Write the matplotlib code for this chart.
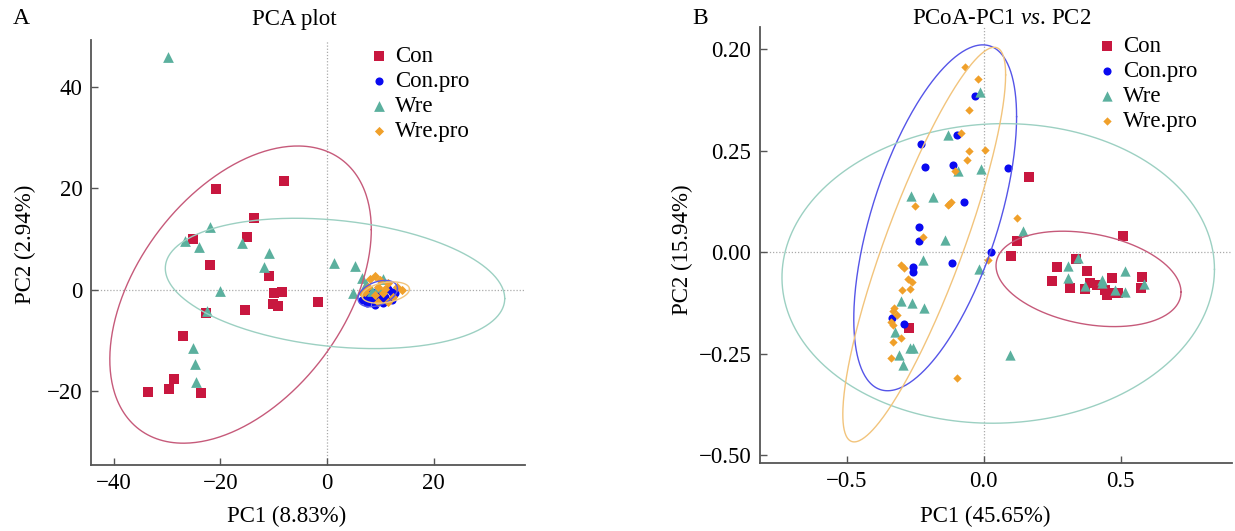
import numpy as np
import matplotlib
matplotlib.use("Agg")
import matplotlib.pyplot as plt

plt.rcParams['font.family'] = ['Liberation Serif', 'DejaVu Serif']
plt.rcParams['mathtext.fontset'] = 'custom'
plt.rcParams['mathtext.it'] = 'Liberation Serif:italic'
plt.rcParams['mathtext.rm'] = 'Liberation Serif'

# --- grupos ---
groups = ['Con', 'Con.pro', 'Wre', 'Wre.pro']
colors = {'Con': '#C8173F', 'Con.pro': '#0A0AF0', 'Wre': '#5BB09E', 'Wre.pro': '#F0A02A'}
ell_colors = {'Con': '#C65A7A', 'Con.pro': '#5555E8', 'Wre': '#9CD0C2', 'Wre.pro': '#F2C47C'}
markers = {'Con': 's', 'Con.pro': 'o', 'Wre': '^', 'Wre.pro': 'D'}

# --- PCA (painel A) ---
pca_con_x = [-20.8, -8.05, -13.7, -15.0, -25.2, -21.9, -10.8, -9.9, -8.4, -10.2, -9.2, -1.7,
             -15.4, -22.7, -27.0, -28.6, -33.6, -29.6, -23.6]
pca_con_y = [19.8, 21.3, 14.2, 10.4, 10.0, 4.8, 2.7, -0.75, -0.5, -2.9, -3.3, -2.4,
             -4.0, -4.7, -9.2, -17.7, -20.2, -19.7, -20.4]
pca_conpro_x = [6.5, 7.4, 9.0, 10.5, 12.1, 12.7, 11.5, 9.3, 7.7, 7.1, 10.9, 8.4, 9.9, 12.1]
pca_conpro_y = [-2.1, -2.6, -3.1, -2.6, -2.1, -0.75, 0.2, -0.2, -0.75, -1.4, -1.4, -1.9, -1.7, -0.4]
pca_wre_x = [-29.8, -22.0, -26.7, -24.0, -15.9, -10.9, -11.8, -20.0, -22.5, 1.3, -25.2, -24.7,
             -24.5, 5.2, 6.6, 10.5, 4.9, 7.3, 9.6, 8.5]
pca_wre_y = [45.9, 12.3, 9.6, 8.3, 9.1, 7.3, 4.5, -0.3, -4.2, 5.2, -11.6, -14.6,
             -18.2, 4.6, 2.2, 2.0, -0.6, 1.1, 0.5, -0.3]
pca_wrepro_x = [8.9, 8.0, 9.9, 11.5, 13.1, 14.0, 7.1, 7.7, 9.6, 10.5, 9.0, 12.4, 11.5, 9.6, 10.9, 6.5]
pca_wrepro_y = [2.7, 2.0, 1.9, 1.2, 0.55, -0.1, -0.4, 0.55, 0.55, -0.75, -1.1, -1.4, -2.4, -2.4, 0.04, -0.75]

# elipses: centro x, centro y, semi-extensao x, semi-extensao y, correlacao
pca_ellipses = {
    'Con': (-16.2, -1.0, 24.5, 29.3, 0.437),
    'Con.pro': (9.5, -0.8, 3.7, 2.6, 0.378),
    'Wre': (1.5, 1.2, 31.8, 12.85, -0.232),
    'Wre.pro': (11.0, -0.6, 4.45, 2.1, 0.315),
}

# --- PCoA (painel B) ---
pcoa_con_x = [0.167, 0.123, 0.100, -0.271, 0.507, 0.266, 0.336, 0.378, 0.248, 0.315, 0.371,
              0.388, 0.415, 0.442, 0.451, 0.470, 0.490, 0.467, 0.579, 0.573]
pcoa_con_y = [0.185, 0.028, -0.009, -0.186, 0.041, -0.035, -0.017, -0.045, -0.071, -0.089, -0.091,
              -0.076, -0.080, -0.093, -0.105, -0.101, -0.101, -0.064, -0.060, -0.089]
pcoa_conpro_x = [-0.032, -0.096, -0.227, -0.215, -0.112, 0.089, -0.072, -0.235, -0.237, 0.028,
                 -0.117, -0.257, -0.259, -0.335, -0.291]
pcoa_conpro_y = [0.385, 0.288, 0.266, 0.210, 0.215, 0.208, 0.124, 0.062, 0.028, 0.001,
                 -0.026, -0.035, -0.048, -0.163, -0.177]
pcoa_wre_x = [-0.013, -0.130, -0.092, -0.011, -0.265, -0.184, 0.142, -0.140, -0.221, -0.017,
              -0.300, -0.263, -0.218, -0.322, -0.270, -0.258, -0.310, -0.296, 0.096, 0.344,
              0.309, 0.309, 0.370, 0.433, 0.433, 0.478, 0.516, 0.516, 0.585]
pcoa_wre_y = [0.396, 0.289, 0.200, 0.204, 0.138, 0.136, 0.052, 0.030, -0.019, -0.040,
              -0.119, -0.124, -0.138, -0.196, -0.236, -0.236, -0.253, -0.278, -0.252, -0.015,
              -0.033, -0.064, -0.083, -0.067, -0.076, -0.093, -0.045, -0.097, -0.079]
pcoa_wrepro_x = [-0.067, -0.022, -0.055, -0.081, -0.052, 0.003, -0.061, -0.105, -0.251, -0.132,
                 -0.118, -0.125, 0.123, -0.221, 0.015, -0.303, -0.291, -0.277, -0.260, -0.298,
                 -0.270, -0.326, -0.332, -0.317, -0.337, -0.332, -0.303, -0.330, -0.337, -0.096]
pcoa_wrepro_y = [0.456, 0.427, 0.350, 0.294, 0.250, 0.252, 0.227, 0.200, 0.114, 0.117,
                 0.124, 0.120, 0.085, 0.037, -0.019, -0.031, -0.039, -0.066, -0.072, -0.093,
                 -0.090, -0.138, -0.144, -0.154, -0.171, -0.179, -0.212, -0.222, -0.261, -0.309]

pcoa_ellipses = {
    'Con': (0.3825, -0.0655, 0.3375, 0.1175, -0.277),
    'Con.pro': (-0.177, 0.085, 0.297, 0.426, 0.585),
    'Wre': (0.053, -0.052, 0.789, 0.369, 0.027),
    'Wre.pro': (-0.217, 0.019, 0.297, 0.486, 0.86),
}

pcoa_yticks = [0.5, 0.25, 0.0, -0.25, -0.5]
pcoa_yticklabels = ['0.20', '0.25', '0.00', '\u22120.25', '\u22120.50']


def draw_ellipse(ax, params, color):
    cx, cy, sx, sy, r = params
    cov = np.array([[sx ** 2, r * sx * sy], [r * sx * sy, sy ** 2]])
    L = np.linalg.cholesky(cov)
    t = np.linspace(0, 2 * np.pi, 400)
    pts = L @ np.vstack([np.cos(t), np.sin(t)])
    ax.plot(cx + pts[0], cy + pts[1], color=color, lw=1.0, zorder=4)


def style_axes(ax):
    for s in ['top', 'right']:
        ax.spines[s].set_visible(False)
    for s in ['left', 'bottom']:
        ax.spines[s].set_color('#555555')
        ax.spines[s].set_linewidth(1.3)
    ax.tick_params(direction='in', length=5, width=1.0, color='#555555', labelsize=16.5, pad=6)
    ax.axhline(0, color='#aaaaaa', lw=0.9, ls=(0, (1, 1.5)), zorder=0)
    ax.axvline(0, color='#aaaaaa', lw=0.9, ls=(0, (1, 1.5)), zorder=0)


def draw_points(ax, data, sizes):
    for g in groups:
        xs, ys = data[g]
        ax.scatter(xs, ys, marker=markers[g], s=sizes[g], color=colors[g], lw=0, zorder=3, label=g)


fig = plt.figure(figsize=(12.35, 5.31), dpi=100)
W, H = 1235.0, 531.0

# ---- Painel A ----
axA = fig.add_axes([90.6 / W, 1 - 465 / H, (525 - 90.6) / W, (465 - 40) / H])
style_axes(axA)
pca_data = {'Con': (pca_con_x, pca_con_y), 'Con.pro': (pca_conpro_x, pca_conpro_y),
            'Wre': (pca_wre_x, pca_wre_y), 'Wre.pro': (pca_wrepro_x, pca_wrepro_y)}
draw_points(axA, pca_data, {'Con': 55, 'Con.pro': 34, 'Wre': 60, 'Wre.pro': 22})
for g in groups:
    draw_ellipse(axA, pca_ellipses[g], ell_colors[g])
axA.set_xlim(-44.3, 37.1)
axA.set_ylim(-34.6, 49.2)
axA.set_xticks([-40, -20, 0, 20])
axA.set_yticks([40, 20, 0, -20])
legA = axA.legend(loc='upper left', bbox_to_anchor=(0.611, 1.008), frameon=False, fontsize=16.5,
                  handletextpad=0.1, labelspacing=0.17, handlelength=1.2, borderaxespad=0)

# ---- Painel B ----
axB = fig.add_axes([759.5 / W, 1 - 462.6 / H, (1232 - 759.5) / W, (462.6 - 27) / H])
style_axes(axB)
pcoa_data = {'Con': (pcoa_con_x, pcoa_con_y), 'Con.pro': (pcoa_conpro_x, pcoa_conpro_y),
             'Wre': (pcoa_wre_x, pcoa_wre_y), 'Wre.pro': (pcoa_wrepro_x, pcoa_wrepro_y)}
draw_points(axB, pcoa_data, {'Con': 42, 'Con.pro': 34, 'Wre': 55, 'Wre.pro': 18})
for g in groups:
    draw_ellipse(axB, pcoa_ellipses[g], ell_colors[g])
axB.set_xlim(-0.818, 0.906)
axB.set_ylim(-0.518, 0.555)
axB.set_xticks([-0.5, 0.0, 0.5])
axB.set_xticklabels(['\u22120.5', '0.0', '0.5'])
axB.set_yticks(pcoa_yticks)
axB.set_yticklabels(pcoa_yticklabels)
legB = axB.legend(loc='upper left', bbox_to_anchor=(0.687, 1.0), frameon=False, fontsize=16.5,
                  handletextpad=0.1, labelspacing=0.17, handlelength=1.2, borderaxespad=0)

# ---- textos ----
fig.text(21 / W, 1 - 19 / H, 'A', fontsize=17, ha='center', va='center')
fig.text(294 / W, 1 - 19 / H, 'PCA plot', fontsize=16.5, ha='center', va='center')
fig.text(700 / W, 1 - 19 / H, 'B', fontsize=17, ha='center', va='center')
fig.text(1002 / W, 1 - 19 / H, r'PCoA-PC1 $\mathit{vs}$. PC2', fontsize=16.5, ha='center', va='center')
fig.text(287 / W, 1 - 516 / H, 'PC1 (8.83%)', fontsize=16.5, ha='center', va='center')
fig.text(985 / W, 1 - 516 / H, 'PC1 (45.65%)', fontsize=16.5, ha='center', va='center')
fig.text(25 / W, 1 - 244 / H, 'PC2 (2.94%)', fontsize=16.5, ha='center', va='center', rotation=90)
fig.text(682 / W, 1 - 250 / H, 'PC2 (15.94%)', fontsize=16.5, ha='center', va='center', rotation=90)

fig.savefig('out.png', dpi=100)
